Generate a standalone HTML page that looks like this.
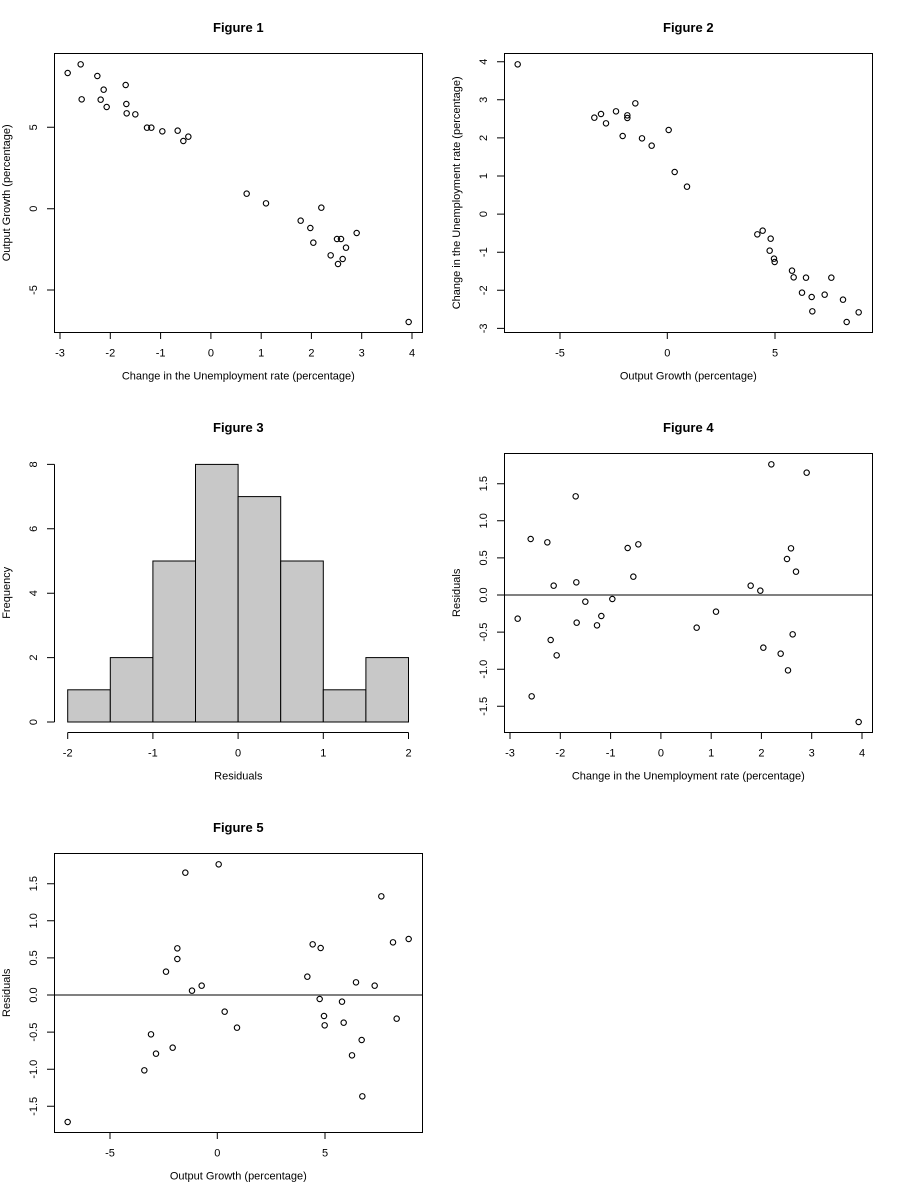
<!DOCTYPE html>
<html>
<head>
<meta charset="utf-8">
<style>
html,body{margin:0;padding:0;background:#fff;}
svg{display:block;}
text{font-family:"Liberation Sans",Arial,sans-serif;fill:#000;}
.t{font-size:13px;font-weight:bold;text-anchor:middle;}
.l{font-size:11px;text-anchor:middle;}
.k{font-size:11px;text-anchor:middle;}
.ax{stroke:#000;stroke-width:1;fill:none;}
.p circle{fill:none;stroke:#000;stroke-width:1.1;}
</style>
</head>
<body>
<svg width="900" height="1200" viewBox="0 0 900 1200" xmlns="http://www.w3.org/2000/svg">
<rect x="0" y="0" width="900" height="1200" fill="#fff"/>

<!-- ================= Figure 1 ================= -->
<text class="t" x="238.3" y="32">Figure 1</text>
<rect class="ax" x="54.5" y="53.5" width="368" height="279"/>
<g class="ax">
<path d="M60,332.5V339M110.3,332.5V339M160.6,332.5V339M210.9,332.5V339M261.2,332.5V339M311.4,332.5V339M361.7,332.5V339M412,332.5V339"/>
<path d="M47,127.3H54.5M47,208.7H54.5M47,290H54.5"/>
</g>
<g class="k">
<text x="60" y="356.5">-3</text><text x="110.3" y="356.5">-2</text><text x="160.6" y="356.5">-1</text><text x="210.9" y="356.5">0</text><text x="261.2" y="356.5">1</text><text x="311.4" y="356.5">2</text><text x="361.7" y="356.5">3</text><text x="412" y="356.5">4</text>
<text transform="translate(37,127.3) rotate(-90)">5</text>
<text transform="translate(37,208.7) rotate(-90)">0</text>
<text transform="translate(37,290) rotate(-90)">-5</text>
</g>
<text class="l" x="238.3" y="379.5">Change in the Unemployment rate (percentage)</text>
<text class="l" transform="translate(10,192.8) rotate(-90)">Output Growth (percentage)</text>
<g class="p">
<circle cx="67.67" cy="73" r="2.7"/><circle cx="80.67" cy="64.33" r="2.7"/><circle cx="81.67" cy="99.33" r="2.7"/><circle cx="97.33" cy="76" r="2.7"/><circle cx="100.67" cy="99.67" r="2.7"/><circle cx="103.67" cy="89.67" r="2.7"/><circle cx="106.67" cy="107" r="2.7"/><circle cx="125.67" cy="85" r="2.7"/><circle cx="126.33" cy="104" r="2.7"/><circle cx="126.67" cy="113.33" r="2.7"/><circle cx="135.33" cy="114.33" r="2.7"/><circle cx="147" cy="127.67" r="2.7"/><circle cx="151.33" cy="127.67" r="2.7"/><circle cx="162.33" cy="131.33" r="2.7"/><circle cx="177.67" cy="130.67" r="2.7"/><circle cx="183.33" cy="141" r="2.7"/><circle cx="188.33" cy="136.67" r="2.7"/><circle cx="246.67" cy="193.67" r="2.7"/><circle cx="266" cy="203.33" r="2.7"/><circle cx="321.33" cy="207.67" r="2.7"/><circle cx="300.67" cy="220.67" r="2.7"/><circle cx="310.33" cy="228" r="2.7"/><circle cx="313.33" cy="242.67" r="2.7"/><circle cx="337" cy="239" r="2.7"/><circle cx="341" cy="239" r="2.7"/><circle cx="346" cy="247.67" r="2.7"/><circle cx="330.67" cy="255.33" r="2.7"/><circle cx="342.67" cy="259" r="2.7"/><circle cx="338" cy="264" r="2.7"/><circle cx="356.67" cy="233" r="2.7"/><circle cx="408.67" cy="322" r="2.7"/>
</g>

<!-- ================= Figure 2 ================= -->
<text class="t" x="688.3" y="32">Figure 2</text>
<rect class="ax" x="504.5" y="53.5" width="368" height="279"/>
<g class="ax">
<path d="M560,332.5V339M667.3,332.5V339M775,332.5V339"/>
<path d="M497,61.7H504.5M497,99.8H504.5M497,137.9H504.5M497,176H504.5M497,214.1H504.5M497,252.2H504.5M497,290.3H504.5M497,328.4H504.5"/>
</g>
<g class="k">
<text x="560" y="356.5">-5</text><text x="667.3" y="356.5">0</text><text x="775" y="356.5">5</text>
<text transform="translate(487,61.7) rotate(-90)">4</text>
<text transform="translate(487,99.8) rotate(-90)">3</text>
<text transform="translate(487,137.9) rotate(-90)">2</text>
<text transform="translate(487,176) rotate(-90)">1</text>
<text transform="translate(487,214.1) rotate(-90)">0</text>
<text transform="translate(487,252.2) rotate(-90)">-1</text>
<text transform="translate(487,290.3) rotate(-90)">-2</text>
<text transform="translate(487,328.4) rotate(-90)">-3</text>
</g>
<text class="l" x="688.3" y="379.5">Output Growth (percentage)</text>
<text class="l" transform="translate(460,192.8) rotate(-90)">Change in the Unemployment rate (percentage)</text>
<g class="p">
<circle cx="517.67" cy="64.33" r="2.7"/><circle cx="594.33" cy="117.67" r="2.7"/><circle cx="601" cy="114" r="2.7"/><circle cx="606" cy="123.33" r="2.7"/><circle cx="616" cy="111.33" r="2.7"/><circle cx="622.67" cy="136" r="2.7"/><circle cx="627.33" cy="115.33" r="2.7"/><circle cx="627.33" cy="118" r="2.7"/><circle cx="635.33" cy="103.33" r="2.7"/><circle cx="642" cy="138.33" r="2.7"/><circle cx="651.67" cy="145.67" r="2.7"/><circle cx="668.67" cy="130" r="2.7"/><circle cx="674.67" cy="172" r="2.7"/><circle cx="687" cy="186.67" r="2.7"/><circle cx="757.33" cy="234.33" r="2.7"/><circle cx="762.67" cy="230.67" r="2.7"/><circle cx="770.67" cy="238.67" r="2.7"/><circle cx="769.67" cy="250.67" r="2.7"/><circle cx="774" cy="258.67" r="2.7"/><circle cx="774.67" cy="262" r="2.7"/><circle cx="792" cy="270.67" r="2.7"/><circle cx="793.67" cy="277.33" r="2.7"/><circle cx="806" cy="277.67" r="2.7"/><circle cx="802" cy="292.67" r="2.7"/><circle cx="811.67" cy="297" r="2.7"/><circle cx="812.33" cy="311.33" r="2.7"/><circle cx="824.67" cy="294.67" r="2.7"/><circle cx="831.33" cy="277.67" r="2.7"/><circle cx="843" cy="299.67" r="2.7"/><circle cx="846.67" cy="322" r="2.7"/><circle cx="858.67" cy="312.33" r="2.7"/>
</g>

<!-- ================= Figure 3 ================= -->
<text class="t" x="238.3" y="432">Figure 3</text>
<g fill="#c8c8c8" stroke="#000" stroke-width="1">
<rect x="67.7" y="689.8" width="42.6" height="32.2"/>
<rect x="110.3" y="657.6" width="42.6" height="64.4"/>
<rect x="152.9" y="561" width="42.6" height="161"/>
<rect x="195.5" y="464.4" width="42.6" height="257.6"/>
<rect x="238.1" y="496.6" width="42.6" height="225.4"/>
<rect x="280.7" y="561" width="42.6" height="161"/>
<rect x="323.3" y="689.8" width="42.6" height="32.2"/>
<rect x="365.9" y="657.6" width="42.6" height="64.4"/>
</g>
<g class="ax">
<path d="M54.5,722V464.4"/>
<path d="M47,722H54.5M47,657.6H54.5M47,593.2H54.5M47,528.8H54.5M47,464.4H54.5"/>
<path d="M67.7,732.5H408.5"/>
<path d="M67.7,732.5V739M152.9,732.5V739M238.1,732.5V739M323.3,732.5V739M408.5,732.5V739"/>
</g>
<g class="k">
<text x="67.7" y="756.5">-2</text><text x="152.9" y="756.5">-1</text><text x="238.1" y="756.5">0</text><text x="323.3" y="756.5">1</text><text x="408.5" y="756.5">2</text>
<text transform="translate(37,722) rotate(-90)">0</text>
<text transform="translate(37,657.6) rotate(-90)">2</text>
<text transform="translate(37,593.2) rotate(-90)">4</text>
<text transform="translate(37,528.8) rotate(-90)">6</text>
<text transform="translate(37,464.4) rotate(-90)">8</text>
</g>
<text class="l" x="238.3" y="779.5">Residuals</text>
<text class="l" transform="translate(10,592.8) rotate(-90)">Frequency</text>

<!-- ================= Figure 4 ================= -->
<text class="t" x="688.3" y="432">Figure 4</text>
<rect class="ax" x="504.5" y="453.5" width="368" height="279"/>
<path class="ax" d="M504.5,595H872.5"/>
<g class="ax">
<path d="M510,732.5V739M560.3,732.5V739M610.6,732.5V739M660.9,732.5V739M711.2,732.5V739M761.4,732.5V739M811.7,732.5V739M862,732.5V739"/>
<path d="M497,483.7H504.5M497,520.8H504.5M497,557.9H504.5M497,595H504.5M497,632.1H504.5M497,669.2H504.5M497,706.3H504.5"/>
</g>
<g class="k">
<text x="510" y="756.5">-3</text><text x="560.3" y="756.5">-2</text><text x="610.6" y="756.5">-1</text><text x="660.9" y="756.5">0</text><text x="711.2" y="756.5">1</text><text x="761.4" y="756.5">2</text><text x="811.7" y="756.5">3</text><text x="862" y="756.5">4</text>
<text transform="translate(487,483.7) rotate(-90)">1.5</text>
<text transform="translate(487,520.8) rotate(-90)">1.0</text>
<text transform="translate(487,557.9) rotate(-90)">0.5</text>
<text transform="translate(487,595) rotate(-90)">0.0</text>
<text transform="translate(487,632.1) rotate(-90)">-0.5</text>
<text transform="translate(487,669.2) rotate(-90)">-1.0</text>
<text transform="translate(487,706.3) rotate(-90)">-1.5</text>
</g>
<text class="l" x="688.3" y="779.5">Change in the Unemployment rate (percentage)</text>
<text class="l" transform="translate(460,592.8) rotate(-90)">Residuals</text>
<g class="p">
<circle cx="517.67" cy="618.67" r="2.7"/><circle cx="530.67" cy="539" r="2.7"/><circle cx="531.67" cy="696.33" r="2.7"/><circle cx="547.33" cy="542.33" r="2.7"/><circle cx="550.67" cy="640" r="2.7"/><circle cx="553.67" cy="585.67" r="2.7"/><circle cx="556.67" cy="655.33" r="2.7"/><circle cx="575.67" cy="496.33" r="2.7"/><circle cx="576.33" cy="582.33" r="2.7"/><circle cx="576.67" cy="622.67" r="2.7"/><circle cx="585.33" cy="601.67" r="2.7"/><circle cx="597" cy="625.33" r="2.7"/><circle cx="601.33" cy="616" r="2.7"/><circle cx="612.33" cy="599" r="2.7"/><circle cx="627.67" cy="548" r="2.7"/><circle cx="633.33" cy="576.67" r="2.7"/><circle cx="638.33" cy="544.33" r="2.7"/><circle cx="696.67" cy="627.67" r="2.7"/><circle cx="716" cy="611.67" r="2.7"/><circle cx="771.33" cy="464.33" r="2.7"/><circle cx="750.67" cy="585.67" r="2.7"/><circle cx="760.33" cy="590.67" r="2.7"/><circle cx="763.33" cy="647.67" r="2.7"/><circle cx="787" cy="559" r="2.7"/><circle cx="791" cy="548.33" r="2.7"/><circle cx="796" cy="571.67" r="2.7"/><circle cx="780.67" cy="653.67" r="2.7"/><circle cx="792.67" cy="634.33" r="2.7"/><circle cx="788" cy="670.33" r="2.7"/><circle cx="806.67" cy="472.67" r="2.7"/><circle cx="858.67" cy="722" r="2.7"/>
</g>

<!-- ================= Figure 5 ================= -->
<text class="t" x="238.3" y="832">Figure 5</text>
<rect class="ax" x="54.5" y="853.5" width="368" height="279"/>
<path class="ax" d="M54.5,995H422.5"/>
<g class="ax">
<path d="M110,1132.5V1139M217.3,1132.5V1139M325,1132.5V1139"/>
<path d="M47,883.7H54.5M47,920.8H54.5M47,957.9H54.5M47,995H54.5M47,1032.1H54.5M47,1069.2H54.5M47,1106.3H54.5"/>
</g>
<g class="k">
<text x="110" y="1156.5">-5</text><text x="217.3" y="1156.5">0</text><text x="325" y="1156.5">5</text>
<text transform="translate(37,883.7) rotate(-90)">1.5</text>
<text transform="translate(37,920.8) rotate(-90)">1.0</text>
<text transform="translate(37,957.9) rotate(-90)">0.5</text>
<text transform="translate(37,995) rotate(-90)">0.0</text>
<text transform="translate(37,1032.1) rotate(-90)">-0.5</text>
<text transform="translate(37,1069.2) rotate(-90)">-1.0</text>
<text transform="translate(37,1106.3) rotate(-90)">-1.5</text>
</g>
<text class="l" x="238.3" y="1179.5">Output Growth (percentage)</text>
<text class="l" transform="translate(10,992.8) rotate(-90)">Residuals</text>
<g class="p">
<circle cx="67.67" cy="1122" r="2.7"/><circle cx="144.33" cy="1070.33" r="2.7"/><circle cx="151" cy="1034.33" r="2.7"/><circle cx="156" cy="1053.67" r="2.7"/><circle cx="166" cy="971.67" r="2.7"/><circle cx="172.67" cy="1047.67" r="2.7"/><circle cx="177.33" cy="948.33" r="2.7"/><circle cx="177.33" cy="959" r="2.7"/><circle cx="185.33" cy="872.67" r="2.7"/><circle cx="192" cy="990.67" r="2.7"/><circle cx="201.67" cy="985.67" r="2.7"/><circle cx="218.67" cy="864.33" r="2.7"/><circle cx="224.67" cy="1011.67" r="2.7"/><circle cx="237" cy="1027.67" r="2.7"/><circle cx="307.33" cy="976.67" r="2.7"/><circle cx="312.67" cy="944.33" r="2.7"/><circle cx="320.67" cy="948" r="2.7"/><circle cx="319.67" cy="999" r="2.7"/><circle cx="324" cy="1016" r="2.7"/><circle cx="324.67" cy="1025.33" r="2.7"/><circle cx="342" cy="1001.67" r="2.7"/><circle cx="343.67" cy="1022.67" r="2.7"/><circle cx="356" cy="982.33" r="2.7"/><circle cx="352" cy="1055.33" r="2.7"/><circle cx="361.67" cy="1040" r="2.7"/><circle cx="362.33" cy="1096.33" r="2.7"/><circle cx="374.67" cy="985.67" r="2.7"/><circle cx="381.33" cy="896.33" r="2.7"/><circle cx="393" cy="942.33" r="2.7"/><circle cx="396.67" cy="1018.67" r="2.7"/><circle cx="408.67" cy="939" r="2.7"/>
</g>
</svg>
</body>
</html>
